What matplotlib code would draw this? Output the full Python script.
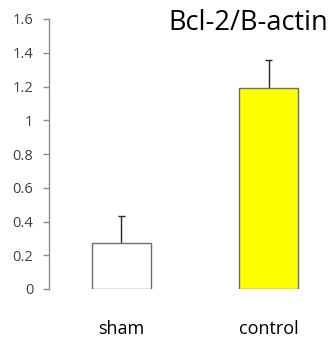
import matplotlib
matplotlib.use('Agg')
from matplotlib import pyplot as plt

categories = ['sham', 'control']
values = [0.27, 1.19]
errors = [0.165, 0.17]
bar_colors = ['#FFFFFF', '#FFFF00']
yticks = [0, 0.2, 0.4, 0.6, 0.8, 1, 1.2, 1.4, 1.6]
ytick_labels = ['0', '0.2', '0.4', '0.6', '0.8', '1', '1.2', '1.4', '1.6']
title = 'Bcl-2/B-actin'

plt.rcParams['font.family'] = ['Open Sans', 'DejaVu Sans']

W, H = 336, 337
fig = plt.figure(figsize=(W / 100, H / 100), dpi=100)
ax = fig.add_axes([49 / W, 48 / H, (W - 49) / W, 270 / H])

x = list(range(len(categories)))
ax.bar(x, values, width=0.4, color=bar_colors, edgecolor='#6E6E6E', linewidth=1.0,
       zorder=2)

# upper error bars only (Excel "plus" style)
tops = [v + e for v, e in zip(values, errors)]
ax.vlines(x, values, tops, color='#262626', linewidth=1.0, zorder=1)
ax.hlines(tops, [xi - 0.025 for xi in x], [xi + 0.025 for xi in x],
          color='#262626', linewidth=1.0, zorder=1)

ax.set_xlim(-0.493, 1.459)
ax.set_ylim(0, 1.6)
ax.set_yticks(yticks)
ax.set_yticklabels(ytick_labels)
ax.set_xticks(x)
ax.set_xticklabels(categories)

for side in ['top', 'right', 'bottom']:
    ax.spines[side].set_visible(False)
ax.spines['left'].set_color('#8C8C8C')
ax.spines['left'].set_linewidth(1.0)

ax.tick_params(axis='y', colors='#8C8C8C', length=4.3, width=1.0, labelsize=10.5,
               labelcolor='#404040', pad=7)
ax.tick_params(axis='x', length=0, labelsize=13, labelcolor='#000000', pad=22)

fig.text(248 / W, 1 - 23 / H, title, ha='center', va='center', fontsize=19.5, color='#000000')

fig.savefig('out.png', dpi=100)
